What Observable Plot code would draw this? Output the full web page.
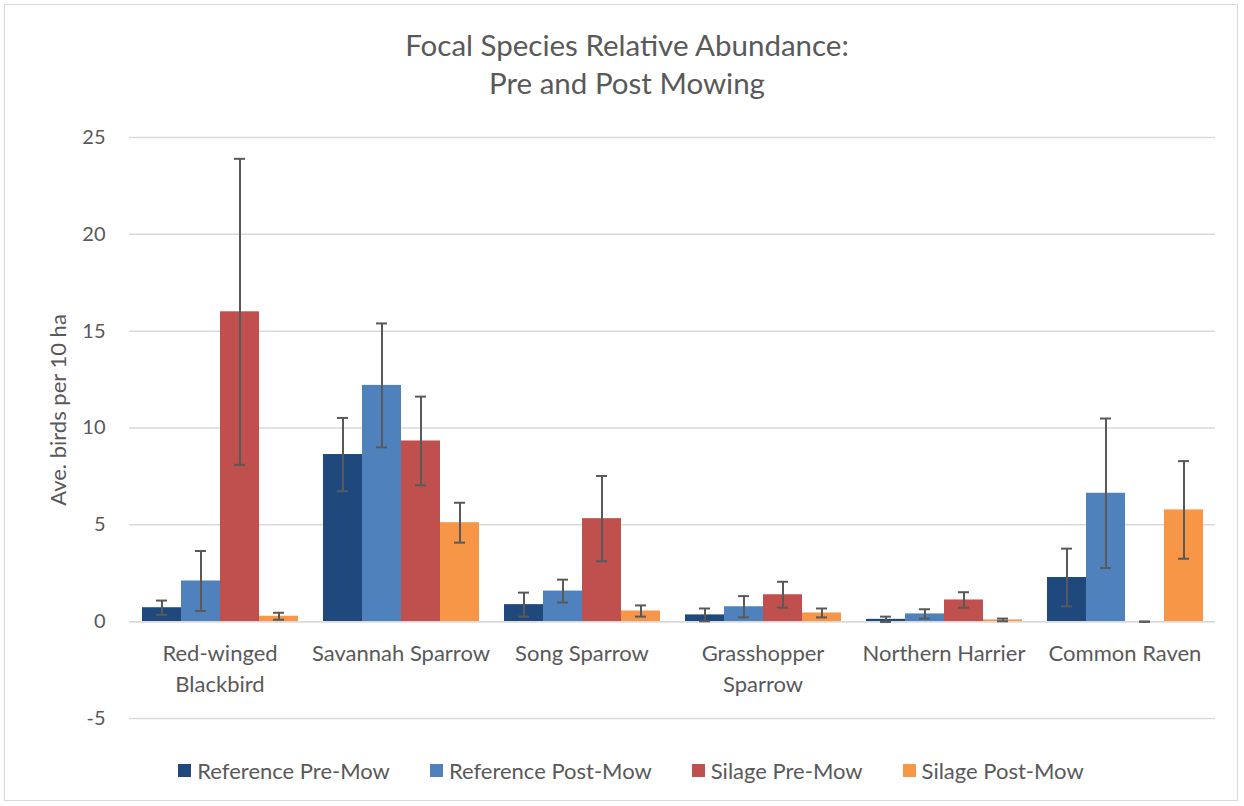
<!DOCTYPE html>
<html>
<head>
<meta charset="utf-8">
<script src="https://cdn.jsdelivr.net/npm/d3@7"></script>
<script src="https://cdn.jsdelivr.net/npm/@observablehq/plot@0.6"></script>
<style>
  html, body { margin: 0; padding: 0; background: #fff; }
  #chart { position: relative; width: 1244px; height: 806px; font-family: Lato, "Open Sans", sans-serif; color: #595959; overflow: hidden; background: #fff; }
  #border { position: absolute; left: 4px; top: 4px; width: 1234px; height: 797px; border: 1px solid #d9d9d9; box-sizing: border-box; pointer-events: none; }
  #title { position: absolute; left: 0; width: 1254px; top: 26px; text-align: center; font-size: 29.5px; line-height: 38px; }
  #plot { position: absolute; left: 0; top: 110px; }
  #ylabel { position: absolute; left: 57px; top: 410px; transform: translate(-50%, -50%) rotate(-90deg); white-space: nowrap; font-size: 22px; }
  #legend { position: absolute; left: 0; width: 1262px; top: 757px; display: flex; justify-content: center; gap: 40px; font-size: 22px; }
  #legend .item { display: flex; align-items: center; }
  #legend .sw { width: 13px; height: 13px; margin-right: 6px; }
</style>
</head>
<body>
<div id="chart">
  <div id="title">Focal Species Relative Abundance:<br>Pre and Post Mowing</div>
  <div id="plot"></div>
  <div id="ylabel">Ave. birds per 10 ha</div>
  <div id="legend"></div>
  <div id="border"></div>
</div>
<script>
// Species (x categories) and their axis labels
const species = ["Red-winged Blackbird", "Savannah Sparrow", "Song Sparrow", "Grasshopper Sparrow", "Northern Harrier", "Common Raven"];
const speciesLabels = ["Red-winged\nBlackbird", "Savannah Sparrow", "Song Sparrow", "Grasshopper\nSparrow", "Northern Harrier", "Common Raven"];

// Survey groups
const series = ["Reference Pre-Mow", "Reference Post-Mow", "Silage Pre-Mow", "Silage Post-Mow"];
const colors = ["#1f497d", "#4f81bd", "#c0504d", "#f79646"];

// Mean birds per 10 ha and error (±) for each group, by species
const refPre      = [0.72, 8.63, 0.88, 0.35, 0.12, 2.28];
const refPreErr   = [0.37, 1.89, 0.62, 0.33, 0.14, 1.49];
const refPost     = [2.10, 12.20, 1.58, 0.77, 0.40, 6.63];
const refPostErr  = [1.55, 3.20, 0.59, 0.55, 0.24, 3.86];
const silPre      = [16.00, 9.33, 5.32, 1.39, 1.12, 0.00];
const silPreErr   = [7.90, 2.29, 2.20, 0.67, 0.40, 0.00];
const silPost     = [0.28, 5.11, 0.55, 0.45, 0.09, 5.77];
const silPostErr  = [0.18, 1.03, 0.29, 0.23, 0.07, 2.52];

const yTicks = [-5, 0, 5, 10, 15, 20, 25];

const values = [refPre, refPost, silPre, silPost];
const errors = [refPreErr, refPostErr, silPreErr, silPostErr];
const rows = [];
species.forEach((sp, i) => {
  series.forEach((s, j) => {
    rows.push({species: sp, series: s, value: values[j][i], lo: values[j][i] - errors[j][i], hi: values[j][i] + errors[j][i]});
  });
});

const ink = "#595959";
const grid = "#d9d9d9";

const chart = Plot.plot({
  width: 1244,
  height: 620,
  marginLeft: 127,
  marginRight: 27,
  marginTop: 27,
  marginBottom: 12,
  style: {fontFamily: "Lato, 'Open Sans', sans-serif", fontSize: "20px", color: ink, background: "transparent"},
  fx: {domain: species, padding: 0, axis: null},
  x: {domain: series, paddingInner: 0, paddingOuter: 0.27, axis: null},
  y: {domain: [-5, 25], ticks: yTicks},
  color: {domain: series, range: colors},
  marks: [
    Plot.gridY(yTicks, {stroke: grid, strokeOpacity: 1, strokeWidth: 1.5}),
    Plot.axisY(yTicks, {tickSize: 0, tickPadding: 24, tickFormat: d => String(d), fontSize: 20, color: ink, label: null}),
    Plot.barY(rows, {fx: "species", x: "series", y: "value", fill: "series"}),
    Plot.ruleY([0], {stroke: grid, strokeWidth: 1.5}),
    Plot.ruleX(rows, {fx: "species", x: "series", y1: "lo", y2: "hi", stroke: ink, strokeWidth: 2}),
    Plot.tickY(rows, {fx: "species", x: "series", y: "lo", stroke: ink, strokeWidth: 2, insetLeft: 14, insetRight: 14}),
    Plot.tickY(rows, {fx: "species", x: "series", y: "hi", stroke: ink, strokeWidth: 2, insetLeft: 14, insetRight: 14}),
    Plot.text(species, {
      fx: d => d, y: () => 0, text: (d, i) => speciesLabels[i],
      lineAnchor: "top", dy: 17, lineHeight: 1.41, fontSize: 22, fill: ink
    })
  ]
});
document.getElementById("plot").appendChild(chart);

// Legend
const legend = document.getElementById("legend");
series.forEach((s, j) => {
  const item = document.createElement("div");
  item.className = "item";
  const sw = document.createElement("span");
  sw.className = "sw";
  sw.style.background = colors[j];
  const label = document.createElement("span");
  label.textContent = s;
  item.appendChild(sw);
  item.appendChild(label);
  legend.appendChild(item);
});
</script>
</body>
</html>
